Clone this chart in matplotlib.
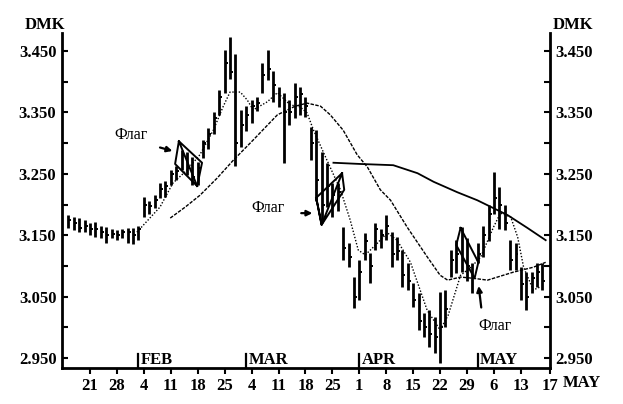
import matplotlib
matplotlib.use('Agg')
import matplotlib.pyplot as plt
import numpy as np

plt.rcParams['font.family'] = ['Liberation Serif', 'DejaVu Serif']

# daily bars, trading day index (0 = Mon Jan 14)
day = np.arange(1, 90)
high = [3.183, 3.180, 3.178, 3.175, 3.170, 3.172, 3.165, 3.163, 3.160, 3.158,
        3.160, 3.162, 3.162, 3.165, 3.212, 3.205, 3.215, 3.235, 3.238, 3.256,
        3.262, 3.289, 3.286, 3.278, 3.270, 3.305, 3.325, 3.350, 3.386, 3.452,
        3.473, 3.445, 3.354, 3.360, 3.370, 3.375, 3.430, 3.452, 3.418, 3.392,
        3.382, 3.370, 3.398, 3.392, 3.375, 3.326, 3.322, 3.285, 3.268, 3.235,
        3.235, 3.163, 3.137, 3.082, 3.110, 3.153, 3.121, 3.170, 3.160, 3.183,
        3.155, 3.148, 3.126, 3.105, 3.072, 3.056, 3.023, 3.028, 3.017, 3.058,
        3.061, 3.126, 3.142, 3.163, 3.145, 3.105, 3.137, 3.165, 3.200, 3.253,
        3.228, 3.200, 3.142, 3.137, 3.098, 3.090, 3.090, 3.105, 3.105]
low = [3.162, 3.158, 3.155, 3.155, 3.150, 3.148, 3.145, 3.137, 3.145, 3.142,
       3.145, 3.138, 3.135, 3.142, 3.180, 3.185, 3.195, 3.210, 3.212, 3.232,
       3.240, 3.256, 3.248, 3.232, 3.232, 3.275, 3.290, 3.315, 3.345, 3.382,
       3.405, 3.262, 3.294, 3.320, 3.333, 3.352, 3.382, 3.403, 3.367, 3.359,
       3.268, 3.330, 3.340, 3.345, 3.343, 3.272, 3.205, 3.172, 3.196, 3.180,
       3.190, 3.110, 3.098, 3.031, 3.045, 3.110, 3.072, 3.126, 3.130, 3.142,
       3.098, 3.110, 3.066, 3.061, 3.033, 2.996, 2.984, 2.968, 2.958, 2.943,
       3.000, 3.082, 3.089, 3.090, 3.075, 3.056, 3.105, 3.115, 3.140, 3.185,
       3.160, 3.158, 3.093, 3.093, 3.045, 3.028, 3.056, 3.066, 3.061]
close = [3.175, 3.170, 3.162, 3.165, 3.160, 3.160, 3.155, 3.150, 3.152, 3.150,
         3.155, 3.155, 3.150, 3.160, 3.200, 3.198, 3.208, 3.225, 3.230, 3.250,
         3.255, 3.280, 3.260, 3.245, 3.260, 3.300, 3.315, 3.340, 3.375, 3.430,
         3.415, 3.300, 3.330, 3.345, 3.360, 3.365, 3.410, 3.420, 3.395, 3.370,
         3.350, 3.350, 3.375, 3.380, 3.360, 3.300, 3.240, 3.200, 3.230, 3.215,
         3.220, 3.130, 3.115, 3.050, 3.090, 3.140, 3.100, 3.160, 3.150, 3.165,
         3.120, 3.125, 3.085, 3.075, 3.045, 3.010, 3.000, 2.990, 2.985, 3.000,
         3.030, 3.110, 3.120, 3.110, 3.100, 3.080, 3.120, 3.150, 3.185, 3.210,
         3.200, 3.170, 3.110, 3.120, 3.070, 3.050, 3.080, 3.090, 3.075]

# moving averages
ma_short_x = [13.7, 18.0, 20.4, 23.0, 25.4, 27.9, 29.7, 31.0, 32.9, 34.2, 35.3, 37.9,
              39.8, 42.2, 44.0, 45.3, 46.5, 49.0, 51.5, 53.3, 54.8, 56.1, 58.0, 60.2,
              62.0, 64.5, 67.6, 70.0, 71.5, 73.8, 75.6, 77.5, 79.9, 81.2, 83.1, 84.4,
              85.5, 87.3, 88.6]
ma_short = [3.155, 3.196, 3.235, 3.256, 3.281, 3.321, 3.359, 3.383, 3.383, 3.370, 3.354,
            3.367, 3.382, 3.362, 3.359, 3.349, 3.321, 3.272, 3.224, 3.175, 3.126, 3.118,
            3.134, 3.154, 3.142, 3.106, 3.028, 2.996, 3.020, 3.085, 3.097, 3.114, 3.163,
            3.186, 3.180, 3.147, 3.098, 3.061, 3.066]
ma_mid_x = [19.9, 22.7, 25.4, 28.6, 31.6, 35.3, 39.8, 43.1, 45.3, 47.8, 49.6, 52.0,
            54.6, 56.5, 58.9, 60.8, 63.9, 67.6, 70.0, 71.4, 73.8, 76.2, 78.8, 83.6,
            87.3, 89.6]
ma_mid = [3.178, 3.196, 3.215, 3.243, 3.272, 3.305, 3.346, 3.360, 3.365, 3.360, 3.346,
          3.321, 3.281, 3.261, 3.224, 3.207, 3.163, 3.115, 3.085, 3.077, 3.082, 3.080,
          3.077, 3.090, 3.098, 3.106]
ma_long_x = [50.2, 55.2, 61.3, 65.8, 68.8, 73.2, 76.9, 82.5, 86.2, 89.6]
ma_long = [3.268, 3.266, 3.264, 3.251, 3.237, 3.220, 3.207, 3.183, 3.162, 3.142]

# flag outlines
flag1_x = [21.5, 25.8, 24.9, 20.8, 21.5, 24.9]
flag1_y = [3.303, 3.268, 3.230, 3.266, 3.303, 3.230]
flag2_x = [47.0, 51.8, 52.2, 48.0, 47.0, 48.0, 51.8]
flag2_y = [3.211, 3.251, 3.224, 3.167, 3.211, 3.167, 3.251]
flag3_x = [73.8, 77.1, 76.4, 73.0, 73.8]
flag3_y = [3.162, 3.106, 3.080, 3.134, 3.162]

week_ticks = [5, 10, 15, 20, 25, 30, 35, 40, 45, 50, 55, 60, 65, 70, 75, 80, 85, 90.4]
week_labels = ['21', '28', '4', '11', '18', '25', '4', '11', '18', '25',
               '1', '8', '15', '22', '29', '6', '13', '17']
months = ['FEB', 'MAR', 'APR', 'MAY']
month_pos = [14, 34, 55, 77]

fig = plt.figure(figsize=(6.23, 4.04), dpi=100)
ax = fig.add_axes([0.0995, 0.089, 0.7833, 0.8292])

ax.vlines(day, low, high, color='black', lw=2.0)
ax.hlines(close, day, day + 0.55, color='black', lw=1.4)

ax.plot(ma_short_x, ma_short, color='black', lw=1.0, ls=(0, (1, 1.3)))
ax.plot(ma_mid_x, ma_mid, color='black', lw=1.0, ls=(0, (2.5, 1)))
ax.plot(ma_long_x, ma_long, color='black', lw=1.3)

for fx, fy in [(flag1_x, flag1_y), (flag2_x, flag2_y), (flag3_x, flag3_y)]:
    ax.plot(fx, fy, color='black', lw=1.4)

arr = dict(arrowstyle='-|>', color='black', lw=1.6, mutation_scale=8)
ax.annotate('', xy=(20.8, 3.286), xytext=(17.5, 3.294), arrowprops=arr)
ax.annotate('', xy=(46.8, 3.186), xytext=(43.7, 3.186), arrowprops=arr)
ax.annotate('', xy=(77.1, 3.072), xytext=(77.7, 3.028), arrowprops=arr)
ax.text(12.6, 3.313, 'Флаг', fontsize=11.5, ha='center', va='center')
ax.text(38.1, 3.194, 'Флаг', fontsize=11.5, ha='center', va='center')
ax.text(80.1, 3.002, 'Флаг', fontsize=11.5, ha='center', va='center')

ax.set_xlim(-0.2, 90.4)
ax.set_ylim(2.934, 3.479)

# month markers sitting on the bottom axis
for m, p in zip(months, month_pos):
    ax.plot([p, p], [2.934, 2.957], color='black', lw=1.6)
    ax.text(p + 0.4, 2.941, m, fontsize=12, fontweight='bold', va='baseline')

ax.spines['top'].set_visible(False)
for s in ['left', 'right', 'bottom']:
    ax.spines[s].set_linewidth(2.0)

ax.set_yticks([2.95, 3.05, 3.15, 3.25, 3.35, 3.45])
ax.set_yticklabels(['2.950', '3.050', '3.150', '3.250', '3.350', '3.450'])
ax.set_yticks([3.0, 3.1, 3.2, 3.3, 3.4], minor=True)
ax.tick_params(axis='y', which='both', direction='in', length=4, width=1.5,
               left=True, right=True, labelleft=True, labelright=True, pad=4,
               labelsize=12)
for lab in ax.get_yticklabels():
    lab.set_fontweight('bold')

ax.set_xticks(week_ticks)
ax.set_xticklabels(week_labels, fontweight='bold', fontsize=12)
ax.tick_params(axis='x', direction='out', length=4, width=1.5, pad=3)

fig.text(25 / 623, 1 - 25 / 404, 'DMK', fontsize=12, fontweight='bold', va='center')
fig.text(553 / 623, 1 - 25 / 404, 'DMK', fontsize=12, fontweight='bold', va='center')
fig.text(563 / 623, 1 - 383 / 404, 'MAY', fontsize=12, fontweight='bold', va='center')

fig.savefig('out.png', dpi=100)
